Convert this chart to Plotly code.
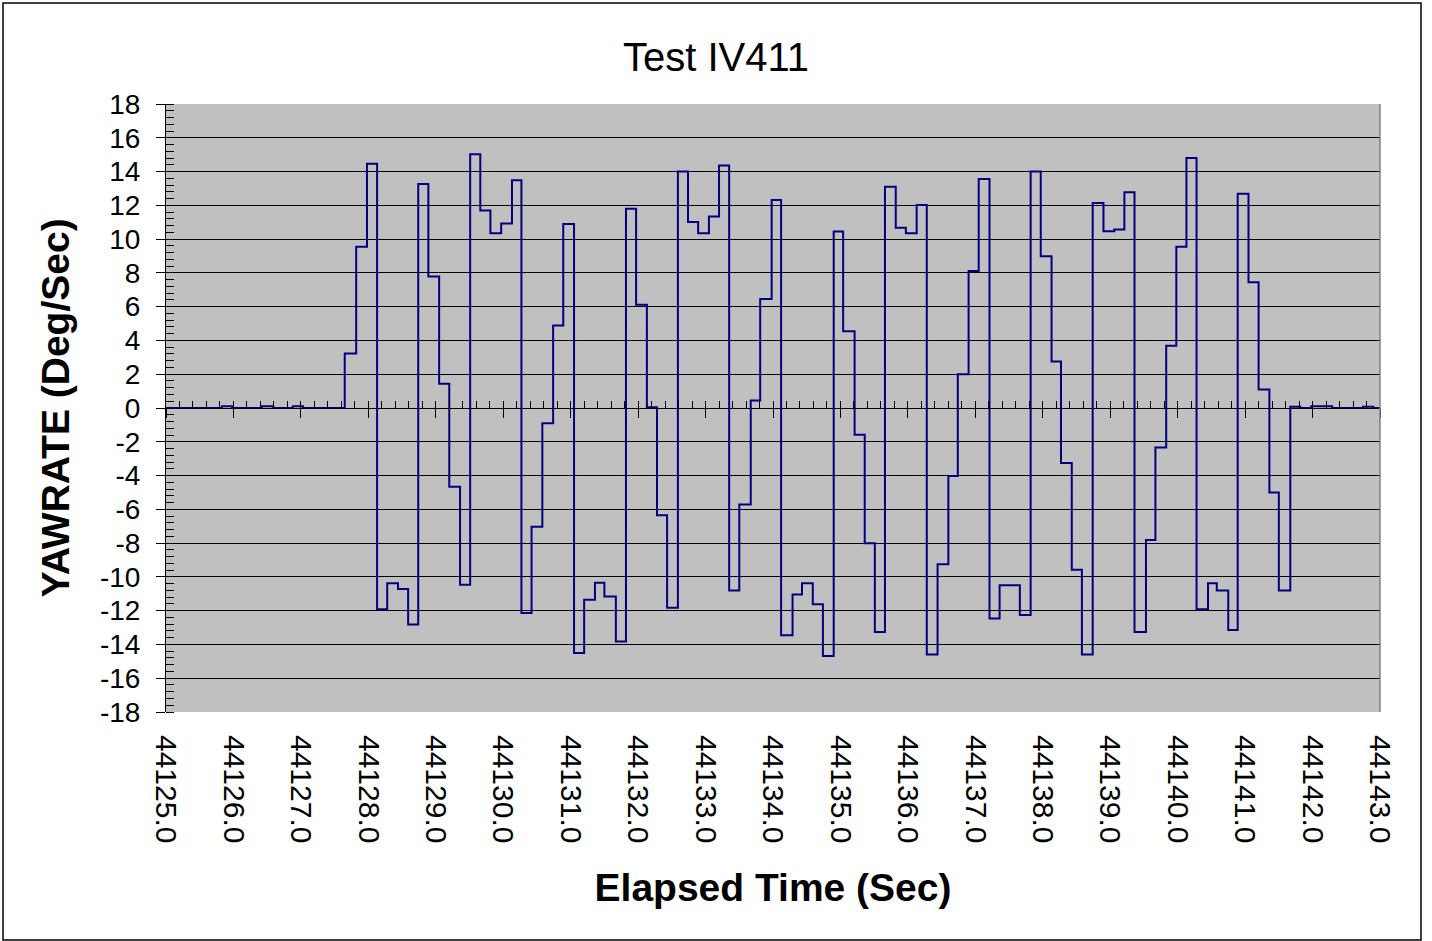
import plotly.graph_objects as go

# Step-change times (s) and the yaw-rate value held from each time onward (deg/s)
times = [
    44125.00, 44125.83, 44125.98, 44126.42, 44126.59, 44126.88, 44127.03,
    44127.65, 44127.82, 44127.98, 44128.13, 44128.28, 44128.44, 44128.59,
    44128.74, 44128.89, 44129.05, 44129.20, 44129.36, 44129.51, 44129.66,
    44129.81, 44129.97, 44130.13, 44130.27, 44130.42, 44130.58, 44130.74,
    44130.89, 44131.05, 44131.20, 44131.36, 44131.50, 44131.67, 44131.82,
    44131.97, 44132.13, 44132.28, 44132.43, 44132.59, 44132.74, 44132.89,
    44133.05, 44133.20, 44133.35, 44133.50, 44133.67, 44133.81, 44133.98,
    44134.12, 44134.29, 44134.43, 44134.59, 44134.74, 44134.90, 44135.04,
    44135.21, 44135.36, 44135.51, 44135.66, 44135.82, 44135.97, 44136.13,
    44136.28, 44136.44, 44136.60, 44136.74, 44136.90, 44137.05, 44137.21,
    44137.36, 44137.66, 44137.82, 44137.97, 44138.13, 44138.27, 44138.43,
    44138.58, 44138.74, 44138.90, 44139.06, 44139.21, 44139.36, 44139.53,
    44139.67, 44139.83, 44139.98, 44140.13, 44140.28, 44140.45, 44140.58,
    44140.75, 44140.89, 44141.05, 44141.20, 44141.36, 44141.50, 44141.67,
    44141.82, 44141.98, 44142.29, 44142.75, 44142.90, 44143.00,
]
yawrate = [
    0.0, 0.1, 0.0, 0.1, 0.0, 0.1, 0.0,
    3.22, 9.55, 14.46, -11.92, -10.37, -10.71, -12.82,
    13.26, 7.79, 1.44, -4.67, -10.47, 15.02, 11.70,
    10.35, 10.92, 13.48, -12.14, -7.03, -0.90, 4.89,
    10.90, -14.50, -11.36, -10.35, -11.16, -13.82, 11.80,
    6.11, 0.05, -6.35, -11.82, 14.00, 11.02, 10.35,
    11.34, 14.36, -10.80, -5.71, 0.44, 6.45, 12.32,
    -13.46, -11.04, -10.37, -11.62, -14.68, 10.45, 4.55,
    -1.58, -8.01, -13.26, 13.10, 10.67, 10.35, 12.02,
    -14.60, -9.25, -4.03, 2.00, 8.11, 13.56, -12.46,
    -10.49, -12.26, 14.00, 8.99, 2.76, -3.26, -9.57,
    -14.60, 12.14, 10.47, 10.57, 12.78, -13.26, -7.81,
    -2.34, 3.69, 9.55, 14.80, -11.92, -10.37, -10.80,
    -13.14, 12.68, 7.45, 1.10, -5.01, -10.80, 0.08,
    0.0, 0.1, 0.0, 0.08, 0.0, 0.0,
]

x_tick_vals = [44125 + i for i in range(19)]
x_tick_text = ["%.1f" % v for v in x_tick_vals]
y_tick_vals = list(range(-18, 19, 2))
y_tick_text = [str(v) for v in y_tick_vals]

title_text = "Test IV411"
x_title = "Elapsed Time (Sec)"
y_title = "YAWRATE (Deg/Sec)"

FONT = "Liberation Sans, Arial, sans-serif"
x_range = [times[0], times[-1]]

fig = go.Figure()
fig.add_trace(go.Scatter(
    x=times, y=yawrate, mode="lines", line_shape="hv",
    line=dict(color="#000080", width=2), showlegend=False, hoverinfo="x+y",
))
# invisible helpers so the zero-line tick axes get drawn
for ax in ("x2", "x3"):
    fig.add_trace(go.Scatter(
        x=[times[0]], y=[0], xaxis=ax, mode="markers",
        marker=dict(opacity=0), showlegend=False, hoverinfo="skip",
    ))

fig.update_layout(
    width=1432, height=941,
    margin=dict(l=166, r=52, t=104, b=229),
    paper_bgcolor="white",
    plot_bgcolor="#C0C0C0",
    font=dict(family=FONT, color="black"),
    title=dict(text=title_text, x=0.5, xref="container", xanchor="center",
               y=1 - 57 / 941, yref="container", yanchor="middle",
               font=dict(size=40, family=FONT, color="black")),
    xaxis=dict(
        range=x_range, tickmode="array", tickvals=x_tick_vals, ticktext=x_tick_text,
        tickangle=90, ticks="", ticklabelstandoff=22,
        tickfont=dict(size=30, family=FONT), showgrid=False, zeroline=False,
        showline=False,
        title=dict(text="<b>" + x_title + "</b>", font=dict(size=39, family=FONT),
                   standoff=31),
    ),
    xaxis2=dict(
        range=x_range, overlaying="x", anchor="free", position=0.5,
        tick0=x_range[0], dtick=0.2, ticks="inside", ticklen=7, tickcolor="black",
        showticklabels=False, showgrid=False, zeroline=False,
        showline=True, linecolor="black", linewidth=1,
    ),
    xaxis3=dict(
        range=x_range, overlaying="x", anchor="free", position=0.5,
        tick0=x_range[0], dtick=1, ticks="outside", ticklen=9, tickcolor="black",
        showticklabels=False, showgrid=False, zeroline=False, showline=False,
    ),
    yaxis=dict(
        range=[-18, 18], tickmode="array", tickvals=y_tick_vals, ticktext=y_tick_text,
        ticks="outside", ticklen=9, tickcolor="black", ticklabelstandoff=10,
        tickfont=dict(size=28, family=FONT),
        minor=dict(dtick=0.4, tick0=-18, ticks="inside", ticklen=8, tickcolor="black",
                   showgrid=False),
        showgrid=True, gridcolor="black", gridwidth=1, zeroline=False,
        showline=True, linecolor="black", linewidth=1,
        title=dict(text="<b>" + y_title + "</b>", font=dict(size=39, family=FONT),
                   standoff=18),
    ),
    shapes=[
        dict(type="line", xref="paper", yref="paper", x0=1, x1=1, y0=0, y1=1,
             line=dict(color="#808080", width=1.5)),
        dict(type="rect", xref="paper", yref="paper",
             x0=(3 - 166) / 1214, x1=(1421 - 166) / 1214,
             y0=(712 - 940) / 608, y1=(712 - 3) / 608,
             line=dict(color="black", width=1.5), fillcolor="rgba(0,0,0,0)",
             layer="below"),
    ],
)

fig.write_html(
    "out.html",
    config={"displayModeBar": False},
    post_script="document.body.style.margin='0';document.body.style.overflow='hidden';",
)
